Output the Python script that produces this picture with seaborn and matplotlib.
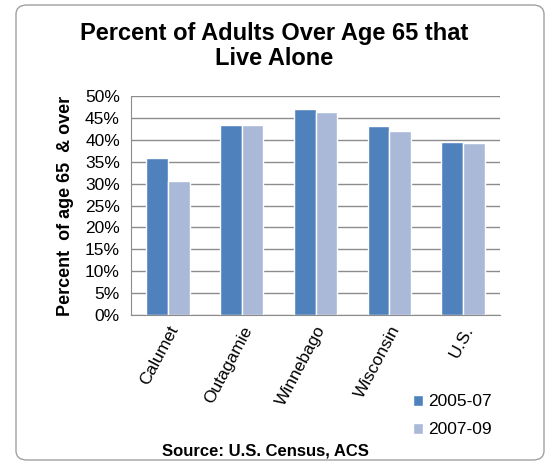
import pandas as pd
import matplotlib.pyplot as plt
import seaborn as sns
from matplotlib.patches import FancyBboxPatch
from matplotlib.ticker import PercentFormatter

# Datos
regiones = ['Calumet', 'Outagamie', 'Winnebago', 'Wisconsin', 'U.S.']
periodos = ['2005-07', '2007-09']
valores_2005 = [35.8, 43.4, 47.0, 43.1, 39.5]
valores_2007 = [30.6, 43.4, 46.3, 41.9, 39.3]

colores = ['#4F81BD', '#AAB9D8']

df = pd.DataFrame({
    'region': regiones * 2,
    'periodo': [periodos[0]] * len(regiones) + [periodos[1]] * len(regiones),
    'valor': valores_2005 + valores_2007,
})

sns.set_style('white')
plt.rcParams['font.family'] = ['Liberation Sans', 'DejaVu Sans']
plt.rcParams['text.color'] = 'black'
plt.rcParams['axes.labelcolor'] = 'black'
plt.rcParams['xtick.color'] = 'black'
plt.rcParams['ytick.color'] = 'black'

fig = plt.figure(figsize=(5.48, 4.66), dpi=100)
ax = fig.add_axes([131 / 548, 1 - 315 / 466, 369 / 548, 219 / 466])

sns.barplot(data=df, x='region', y='valor', hue='periodo', palette=colores,
            width=0.59, gap=0, saturation=1, ax=ax, legend=True)

ax.set_ylim(0, 50)
ax.set_xlim(-0.5, 4.5)
ax.set_yticks(range(0, 51, 5))
ax.yaxis.set_major_formatter(PercentFormatter(decimals=0))
ax.grid(axis='y', color='#8C8C8C', linewidth=1.0)
ax.set_axisbelow(True)
for lado in ['top', 'right']:
    ax.spines[lado].set_visible(False)
ax.spines['left'].set_color('#8C8C8C')
ax.spines['bottom'].set_color('#8C8C8C')
ax.tick_params(axis='y', labelsize=12.5, length=0, pad=8)
ax.tick_params(axis='x', labelsize=12.5, length=0, pad=6)
plt.setp(ax.get_xticklabels(), rotation=62, ha='right', rotation_mode='anchor')

ax.set_xlabel('')
ax.set_ylabel('Percent  of age 65  & over', fontsize=13, fontweight='bold', labelpad=8)

ax.legend(loc='lower left', bbox_to_anchor=(397 / 548, 1 - 453 / 466),
          bbox_transform=fig.transFigure, frameon=False, fontsize=12.5,
          handlelength=0.6, handleheight=0.6, handletextpad=0.3, labelspacing=0.75)

fig.text(274 / 548, 1 - 46 / 466, 'Percent of Adults Over Age 65 that\nLive Alone',
         ha='center', va='center', fontsize=17, fontweight='bold', linespacing=1.1)
fig.text(265 / 548, 1 - 451 / 466, 'Source: U.S. Census, ACS',
         ha='center', va='center', fontsize=12, fontweight='bold')

marco = FancyBboxPatch((16 / 548, 6 / 466), 528 / 548, 455 / 466,
                       boxstyle='round,pad=0,rounding_size=0.02',
                       transform=fig.transFigure, facecolor='none',
                       edgecolor='#A0A0A0', linewidth=1.0)
fig.patches.append(marco)

plt.savefig('out.png', dpi=100)
plt.close()
